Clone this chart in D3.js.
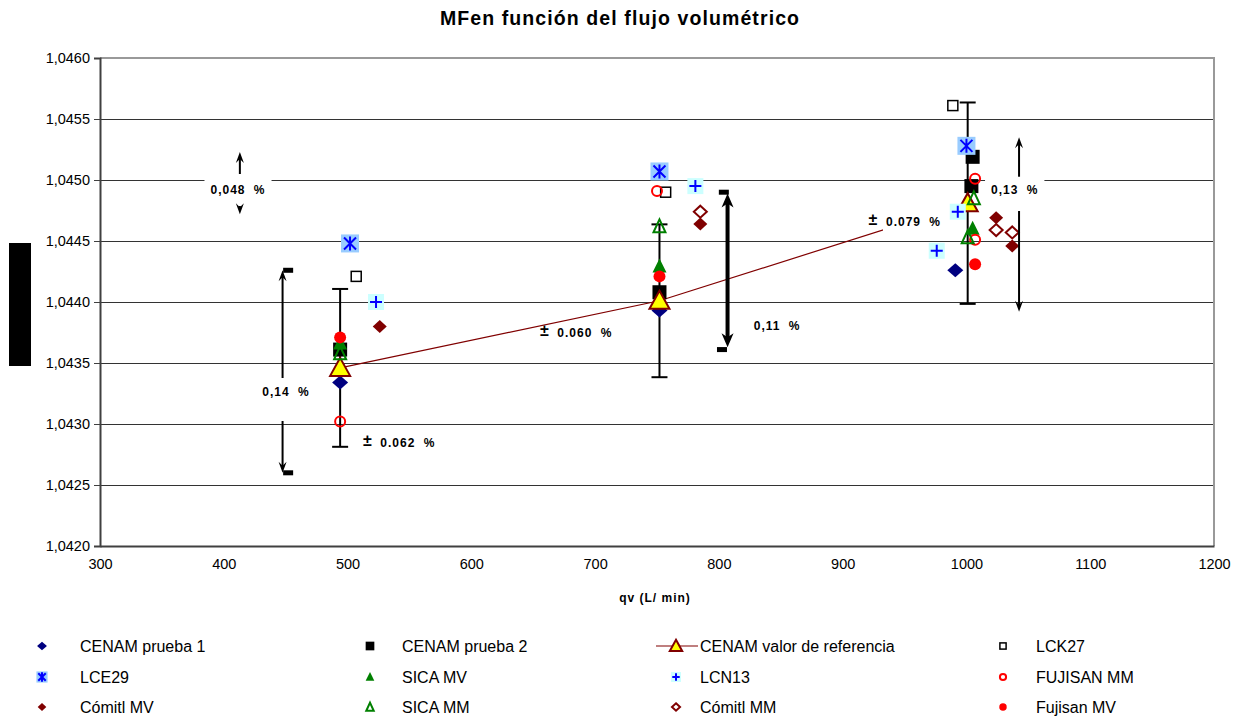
<!DOCTYPE html>
<html lang="es">
<head>
  <meta charset="UTF-8">
  <title>MF en función del flujo volumétrico</title>
  <style>
    body { margin: 0; background: #fff; }
    svg { font-family: "Liberation Sans", Arial, sans-serif; }
  </style>
</head>
<body>

  <svg id="svg" width="1240" height="719"></svg>

  <script src="https://d3js.org/d3.v7.min.js"></script>
  <script>

    // ---- datos ----
    const xTicks = [300, 400, 500, 600, 700, 800, 900, 1000, 1100, 1200]
    const yTicks = [1.0420, 1.0425, 1.0430, 1.0435, 1.0440, 1.0445, 1.0450, 1.0455, 1.0460]

    const cenamPrueba1 = [[494, 1.04334], [752, 1.04393], [991, 1.04426]]
    const cenamPrueba2 = [[494, 1.04361], [752, 1.04408], [1005, 1.04519], [1004, 1.04495]]
    const refX = [494, 752, 1001]
    const refY = [1.04346, 1.04401, 1.04481]
    const refPct = [0.062, 0.060, 0.079]
    const lck27 = [[507, 1.04421], [757, 1.04490], [989, 1.04561]]
    const lce29 = [[502, 1.04448], [752, 1.04507], [1000, 1.04528]]
    const sicaMV = [[494, 1.04366], [752, 1.04429], [1005, 1.04460]]
    const lcn13 = [[523, 1.04400], [781, 1.04495], [993, 1.04474], [976, 1.04442]]
    const fujisanMM = [[494, 1.04302], [750, 1.04491], [1007, 1.04501], [1007, 1.04451]]
    const comitlMV = [[526, 1.04380], [785, 1.04464], [1024, 1.04469], [1037, 1.04446]]
    const sicaMM = [[494, 1.04358], [752, 1.04462], [1006, 1.04485], [1001, 1.04453]]
    const comitlMM = [[785, 1.04474], [1024, 1.04459], [1037, 1.04457]]
    const fujisanMV = [[494, 1.04371], [752, 1.04421], [1007, 1.04431]]

    // marcas sueltas (topes negros de las flechas)
    const caps = [[452, 1.04426], [452, 1.04260], [804, 1.04490], [802.5, 1.04361]]

    // flechas de dispersion
    const spreads = [
      { label: '0,048 %', x: 413, top: 1.04523, bottom: 1.04472, lx: 411.5, ly: 1.04492, gap: [1.045049, 1.044836], w: 2, box: true },
      { label: '0,14 %', x: 447.5, top: 1.04426, bottom: 1.04260, lx: 450.3, ly: 1.04326, gap: [1.043377, 1.043074], w: 2 },
      { label: '0,11 %', x: 807, top: 1.04489, bottom: 1.04363, lx: 847, ly: 1.04380, gap: null, w: 4 },
      { label: '0,13 %', x: 1042.5, top: 1.04535, bottom: 1.04392, lx: 1039, ly: 1.04492, gap: [1.045025, 1.044795], w: 2, box: true }
    ]

    // etiquetas de incertidumbre
    const uncLabels = [
      { text: '0.062 %', x: 516, y: 1.04286 },
      { text: '0.060 %', x: 659, y: 1.04376 },
      { text: '0.079 %', x: 924.5, y: 1.04467, box: true }
    ]

    const series = [
      { name: 'CENAM prueba 1', data: cenamPrueba1, mark: 'diamond', color: '#000080' },
      { name: ' CENAM prueba 2', data: cenamPrueba2, mark: 'square', color: '#000000' },
      { name: 'CENAM  valor de referencia', data: refX.map((d, i) => [d, refY[i]]), mark: 'ref', color: '#800000' },
      { name: 'LCK27', data: lck27, mark: 'osquare', color: '#000000' },
      { name: 'LCE29', data: lce29, mark: 'star', color: '#0000ff' },
      { name: 'SICA MV', data: sicaMV, mark: 'triangle', color: '#008000' },
      { name: 'LCN13', data: lcn13, mark: 'plus', color: '#0000ff' },
      { name: 'FUJISAN MM', data: fujisanMM, mark: 'ocircle', color: '#ff0000' },
      { name: 'Cómitl MV', data: comitlMV, mark: 'diamond', color: '#800000' },
      { name: 'SICA MM', data: sicaMM, mark: 'otriangle', color: '#008000' },
      { name: 'Cómitl MM', data: comitlMM, mark: 'odiamond', color: '#800000' },
      { name: 'Fujisan MV', data: fujisanMV, mark: 'circle', color: '#ff0000' }
    ]

    // ---- escalas ----
    const x = d3.scaleLinear().domain([300, 1200]).range([100, 1214])
    const y = d3.scaleLinear().domain([1.0420, 1.0460]).range([546, 58])

    const svg = d3.select('#svg')
    const fmtY = d => d3.format('.4f')(d).replace('.', ',')

    // titulo
    svg.append('text')
      .attr('x', 620).attr('y', 25)
      .attr('text-anchor', 'middle')
      .attr('font-size', 19.5).attr('font-weight', 'bold')
      .attr('letter-spacing', 1.1)
      .text('MFen función del flujo volumétrico')

    // rejilla
    svg.append('g')
      .selectAll('line')
      .data(yTicks.slice(1, -1))
      .enter().append('line')
      .attr('x1', x(300)).attr('x2', x(1200))
      .attr('y1', d => y(d)).attr('y2', d => y(d))
      .attr('stroke', '#333').attr('shape-rendering', 'crispEdges')

    // marco
    svg.append('path')
      .attr('d', `M${x(300)},${y(1.046)}H${x(1200)}V${y(1.042)}`)
      .attr('fill', 'none').attr('stroke', '#999').attr('stroke-width', 2)

    // ejes
    const yAxis = d3.axisLeft(y).tickValues(yTicks).tickFormat(fmtY).tickSizeOuter(0).tickSize(6).tickPadding(4)
    const gy = svg.append('g').attr('transform', `translate(${x(300)},0)`).call(yAxis)
    gy.select('.domain').attr('stroke', '#404040').attr('stroke-width', 2)
    gy.selectAll('.tick line').attr('stroke', '#404040')
    gy.selectAll('text').attr('font-size', 14.5).attr('font-family', '"Liberation Sans", Arial, sans-serif').attr('fill', '#000')

    const xAxis = d3.axisBottom(x).tickValues(xTicks).tickFormat(d3.format('d')).tickSize(0).tickSizeOuter(0).tickPadding(13)
    const gx = svg.append('g').attr('transform', `translate(0,${y(1.042)})`).call(xAxis)
    gx.select('.domain').attr('stroke', '#404040').attr('stroke-width', 2)
    gx.selectAll('text').attr('font-size', 14.5).attr('font-family', '"Liberation Sans", Arial, sans-serif').attr('fill', '#000')

    // titulo eje x
    svg.append('text')
      .attr('x', 655).attr('y', 602)
      .attr('text-anchor', 'middle')
      .attr('font-size', 12).attr('font-weight', 'bold')
      .attr('letter-spacing', 1)
      .text('qv (L/ min)')

    // titulo eje y (tapado)
    svg.append('rect')
      .attr('x', 9).attr('y', 243).attr('width', 22).attr('height', 123)
      .attr('fill', '#000')

    // barras de incertidumbre
    const eb = svg.append('g').attr('stroke', '#000').attr('stroke-width', 2)
    refX.forEach((rx, i) => {
      const hi = refY[i] * (1 + refPct[i] / 100)
      const lo = refY[i] * (1 - refPct[i] / 100)
      eb.append('line').attr('x1', x(rx)).attr('x2', x(rx)).attr('y1', y(hi)).attr('y2', y(lo))
      eb.append('line').attr('x1', x(rx) - 8).attr('x2', x(rx) + 8).attr('y1', y(hi)).attr('y2', y(hi))
      eb.append('line').attr('x1', x(rx) - 8).attr('x2', x(rx) + 8).attr('y1', y(lo)).attr('y2', y(lo))
    })

    // linea de referencia
    svg.append('path')
      .datum(refX.map((d, i) => [d, refY[i]]))
      .attr('d', d3.line().x(d => x(d[0])).y(d => y(d[1])))
      .attr('fill', 'none').attr('stroke', '#800000').attr('stroke-width', 1.2)

    // topes negros
    svg.append('g').selectAll('rect')
      .data(caps)
      .enter().append('rect')
      .attr('x', d => x(d[0]) - 5).attr('y', d => y(d[1]) - 2.5)
      .attr('width', 10).attr('height', 5)
      .attr('fill', '#000')

    // etiquetas de incertidumbre (antes que los marcadores: la caja blanca tapa la linea)
    uncLabels.forEach(u => {
      const g = svg.append('g')
      const t = g.append('text')
        .attr('x', x(u.x) + 13).attr('y', y(u.y) + 6)
        .attr('font-size', 12).attr('font-weight', 'bold')
        .attr('letter-spacing', 1).attr('word-spacing', 4)
        .text(u.text)
      if (u.box) {
        const bb = t.node().getBBox()
        g.insert('rect', 'text')
          .attr('x', bb.x - 3).attr('y', bb.y - 9).attr('width', bb.width + 26).attr('height', bb.height + 12)
          .attr('fill', '#fff')
      }
      g.append('text')
        .attr('x', x(u.x)).attr('y', y(u.y) + 5)
        .attr('text-anchor', 'middle')
        .attr('font-size', 16).attr('font-weight', 'bold')
        .text('±')
    })

    // dibujo de marcadores
    function drawMarker(g, mark, color, s) {
      // s = escala (1 en la grafica, menor en la leyenda)
      if (mark === 'diamond') {
        const w = color === '#000080' ? 8 : 7, h = color === '#000080' ? 7 : 6.5
        g.append('path').attr('d', `M0,${-h * s}L${w * s},0L0,${h * s}L${-w * s},0Z`).attr('fill', color)
      } else if (mark === 'odiamond') {
        g.append('path').attr('d', `M0,${-6 * s}L${6.5 * s},0L0,${6 * s}L${-6.5 * s},0Z`)
          .attr('fill', '#fff').attr('stroke', color).attr('stroke-width', 2)
      } else if (mark === 'square') {
        g.append('rect').attr('x', -7 * s).attr('y', -7 * s).attr('width', 14 * s).attr('height', 14 * s).attr('fill', color)
      } else if (mark === 'osquare') {
        g.append('rect').attr('x', -5 * s).attr('y', -5 * s).attr('width', 10 * s).attr('height', 10 * s)
          .attr('fill', '#fff').attr('stroke', color).attr('stroke-width', 1.5)
      } else if (mark === 'ref') {
        g.append('path').attr('d', `M0,${-10 * s}L${10 * s},${8 * s}L${-10 * s},${8 * s}Z`)
          .attr('fill', '#ffff00').attr('stroke', color).attr('stroke-width', 2)
      } else if (mark === 'triangle') {
        g.append('path').attr('d', `M0,${-8 * s}L${7 * s},${6 * s}L${-7 * s},${6 * s}Z`).attr('fill', color)
      } else if (mark === 'otriangle') {
        g.append('path').attr('d', `M0,${-7 * s}L${6 * s},${6 * s}L${-6 * s},${6 * s}Z`)
          .attr('fill', 'none').attr('stroke', color).attr('stroke-width', 2)
      } else if (mark === 'circle') {
        g.append('circle').attr('r', 6 * s).attr('fill', color)
      } else if (mark === 'ocircle') {
        g.append('circle').attr('r', 5 * s).attr('fill', 'none').attr('stroke', color).attr('stroke-width', 2)
      } else if (mark === 'star') {
        g.append('rect').attr('x', -9 * s).attr('y', -9 * s).attr('width', 18 * s).attr('height', 18 * s).attr('fill', '#99ccff')
        const a = 6 * s
        g.append('path').attr('d', `M${-a},${-a}L${a},${a}M${a},${-a}L${-a},${a}M0,${-a - 1}V${a + 1}`)
          .attr('stroke', color).attr('stroke-width', 2)
      } else if (mark === 'plus') {
        g.append('rect').attr('x', -8 * s).attr('y', -8 * s).attr('width', 16 * s).attr('height', 16 * s).attr('fill', '#ccffff')
        const a = 6 * s
        g.append('path').attr('d', `M${-a},0H${a}M0,${-a}V${a}`).attr('stroke', color).attr('stroke-width', 2)
      }
    }

    series.forEach(sr => {
      sr.data.forEach(d => {
        const g = svg.append('g').attr('transform', `translate(${x(d[0])},${y(d[1])})`)
        drawMarker(g, sr.mark, sr.color, 1)
      })
    })

    // flechas
    function arrowHead(g, px, py, dir, w) {
      const hw = w > 2 ? 6 : 4, len = w > 2 ? 14 : 11
      g.append('path')
        .attr('d', `M${px},${py}L${px + hw},${py + dir * len}L${px},${py + dir * (len - 4)}L${px - hw},${py + dir * len}Z`)
        .attr('fill', '#000')
    }

    spreads.forEach(a => {
      const g = svg.append('g')
      const px = x(a.x)
      const segs = a.gap ? [[a.top, a.gap[0]], [a.gap[1], a.bottom]] : [[a.top, a.bottom]]
      segs.forEach(s => {
        g.append('line').attr('x1', px).attr('x2', px)
          .attr('y1', y(s[0]) + 6).attr('y2', y(s[1]) - (s[1] === a.bottom ? 6 : 0))
          .attr('stroke', '#000').attr('stroke-width', a.w)
      })
      arrowHead(g, px, y(a.top), 1, a.w)
      arrowHead(g, px, y(a.bottom), -1, a.w)
      const t = g.append('text')
        .attr('x', x(a.lx)).attr('y', y(a.ly) + 4)
        .attr('text-anchor', 'middle')
        .attr('font-size', 12).attr('font-weight', 'bold')
        .attr('letter-spacing', 1).attr('word-spacing', 4)
        .text(a.label)
      if (a.box) {
        const bb = t.node().getBBox()
        g.insert('rect', 'text')
          .attr('x', bb.x - 6).attr('y', bb.y - 6).attr('width', bb.width + 12).attr('height', bb.height + 12)
          .attr('fill', '#fff')
      }
    })

    // leyenda
    const legCols = [{ m: 42, t: 80 }, { m: 370, t: 402 }, { m: 676, t: 700 }, { m: 1003, t: 1036 }]
    const legRows = [646, 677, 707]
    series.forEach((sr, i) => {
      const c = legCols[i % 4], ry = legRows[Math.floor(i / 4)]
      const g = svg.append('g')
      if (sr.mark === 'ref') {
        g.append('line').attr('x1', c.m - 20).attr('x2', c.m + 22).attr('y1', ry).attr('y2', ry)
          .attr('stroke', sr.color).attr('stroke-width', 1.2)
      }
      const mg = g.append('g').attr('transform', `translate(${c.m},${ry})`)
      drawMarker(mg, sr.mark, sr.color, 0.62)
      g.append('text')
        .attr('x', c.t).attr('y', ry + 5.5)
        .attr('font-size', 16)
        .text(sr.name)
    })

  </script>
</body>
</html>
